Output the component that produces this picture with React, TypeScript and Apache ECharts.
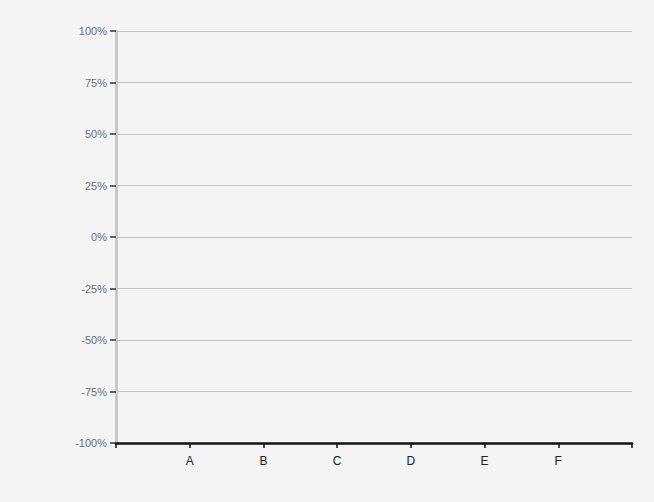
import React, { useEffect, useRef } from "react";
import * as echarts from "echarts";

const categories = ["", "A", "B", "C", "D", "E", "F", ""];
const values: number[] = [];
const yTicks = [-100, -75, -50, -25, 0, 25, 50, 75, 100];

export default function App() {
  const ref = useRef<HTMLDivElement>(null);
  useEffect(() => {
    document.body.style.margin = "0";
    document.body.style.background = "#f4f4f4";
    const chart = echarts.init(ref.current!, null, { renderer: "svg" });
    chart.setOption({
      animation: false,
      backgroundColor: "#f4f4f4",
      grid: { left: 116, right: 22, top: 31, bottom: 59 },
      xAxis: {
        type: "value",
        min: 0,
        max: categories.length - 1,
        interval: 1,
        axisLine: { show: true, onZero: false, lineStyle: { color: "#111", width: 2.5 } },
        axisTick: { show: true, length: 5, lineStyle: { color: "#111", width: 1.5 } },
        axisLabel: {
          color: "#222",
          fontFamily: "Arial, Liberation Sans",
          fontSize: 12,
          margin: 12,
          formatter: (v: number) => categories[Math.round(v)] ?? "",
        },
        splitLine: { show: false },
      },
      yAxis: {
        type: "value",
        min: yTicks[0],
        max: yTicks[yTicks.length - 1],
        interval: 25,
        axisLine: { show: true, lineStyle: { color: "#c8c8c8", width: 3 } },
        axisTick: { show: true, length: 6, inside: false, lineStyle: { color: "#333", width: 1.5 } },
        axisLabel: {
          color: "#6e6e6e",
          fontFamily: "Arial, Liberation Sans",
          fontSize: 11,
          margin: 9,
          formatter: (v: number) => v + "%",
        },
        splitLine: { show: true, lineStyle: { color: "#c4c4c4", width: 1 } },
      },
      series: [{ type: "bar", data: values }],
    });
    return () => chart.dispose();
  }, []);
  return <div ref={ref} style={{ width: 654, height: 502 }} />;
}
